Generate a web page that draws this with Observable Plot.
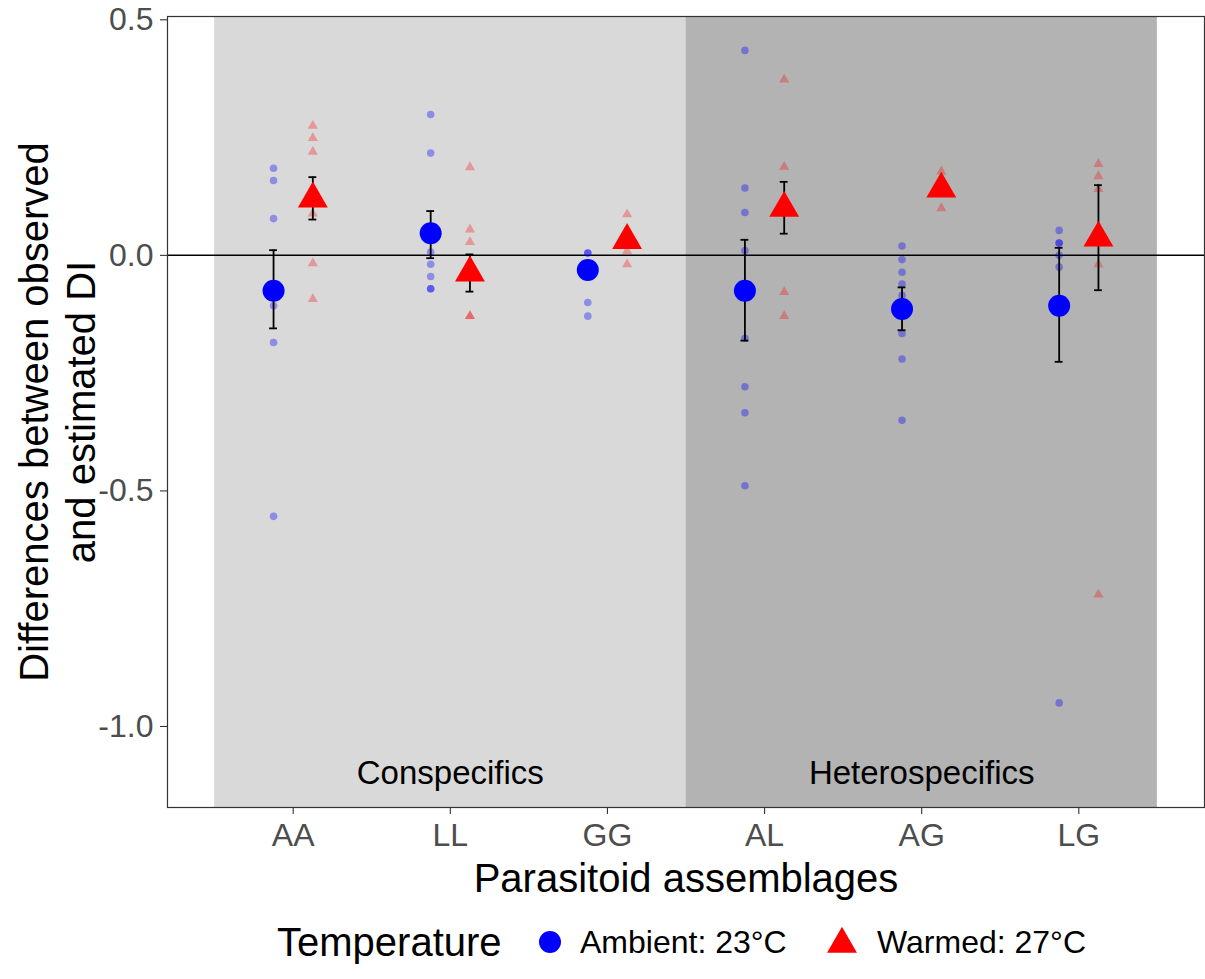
<!DOCTYPE html>
<html>
<head>
<meta charset="utf-8">
<script src="https://cdn.jsdelivr.net/npm/d3@7"></script>
<script src="https://cdn.jsdelivr.net/npm/@observablehq/plot@0.6"></script>
<style>
  html, body { margin: 0; padding: 0; background: #fff; }
  body { font-family: "Liberation Sans", Arial, "DejaVu Sans", sans-serif; }
  #wrap { position: relative; width: 1205px; }
  #legend { position: relative; width: 1205px; height: 74px; }
  #legend .item { position: absolute; top: 0; height: 74px; display: flex; align-items: center; white-space: nowrap; }
</style>
</head>
<body>
<div id="wrap"></div>
<script>
// ---------------- data ----------------
const categories = ["AA", "LL", "GG", "AL", "AG", "LG"];
const treatments = ["Ambient: 23°C", "Warmed: 27°C"];
const legendTitle = "Temperature";

// individual replicate values (one list per assemblage, same order as categories)
const ambientRaw = [
  [0.185, 0.159, 0.078, -0.107, -0.185, -0.554],
  [0.299, 0.217, 0.007, -0.019, -0.045, -0.071, -0.071],
  [0.005, 0.005, -0.100, -0.129],
  [0.435, 0.143, 0.091, 0.010, -0.176, -0.279, -0.334, -0.489],
  [0.020, -0.009, -0.036, -0.061, -0.085, -0.166, -0.220, -0.350],
  [0.053, 0.026, 0.026, 0.000, -0.025, -0.950]
];
const warmedRaw = [
  [0.275, 0.249, 0.220, 0.089, -0.017, -0.093],
  [0.187, 0.055, 0.028, -0.129, -0.129],
  [0.087, 0.009, -0.019],
  [0.373, 0.188, -0.078, -0.129],
  [0.178, 0.100],
  [0.194, 0.168, 0.141, -0.019, -0.720]
];

// means and error bar limits
const ambientMean = [-0.075, 0.047, -0.031, -0.075, -0.114, -0.107];
const ambientLow  = [-0.155, -0.006, null, -0.181, -0.159, -0.226];
const ambientHigh = [0.011, 0.094, null, 0.033, -0.068, 0.016];
const warmedMean  = [0.120, -0.037, 0.032, 0.100, 0.141, 0.037];
const warmedLow   = [0.076, -0.077, null, 0.046, null, -0.074];
const warmedHigh  = [0.166, 0.002, null, 0.156, null, 0.149];

const yTicks = [-1.0, -0.5, 0.0, 0.5];

const groupLabels = ["Conspecifics", "Heterospecifics"];
const groupFirst = [1, 4];   // first category index (1-based)
const groupLast = [3, 6];    // last category index (1-based)
const groupLabelAt = [2, 5]; // category under which the label is centred
const groupLabelY = -1.1;

const xTitle = "Parasitoid assemblages";
const yTitle = "Differences between observed\nand estimated DI";

// ---------------- tables ----------------
const dodge = 0.125;
const capHalf = 0.025;
const yDomain = [-1.172, 0.507];

const rawPts = [];
categories.forEach((c, i) => {
  ambientRaw[i].forEach(v => rawPts.push({x: i + 1 - dodge, y: v, t: 0}));
  warmedRaw[i].forEach(v => rawPts.push({x: i + 1 + dodge, y: v, t: 1}));
});
const means = [];
const bars = [];
categories.forEach((c, i) => {
  means.push({x: i + 1 - dodge, y: ambientMean[i], t: 0});
  means.push({x: i + 1 + dodge, y: warmedMean[i], t: 1});
  if (ambientLow[i] != null) bars.push({x: i + 1 - dodge, lo: ambientLow[i], hi: ambientHigh[i]});
  if (warmedLow[i] != null) bars.push({x: i + 1 + dodge, lo: warmedLow[i], hi: warmedHigh[i]});
});
const groupsTbl = groupLabels.map((g, i) => ({
  label: g, x1: groupFirst[i] - 0.5, x2: groupLast[i] + 0.5, xl: groupLabelAt[i], y: groupLabelY,
  fill: i === 0 ? "#D9D9D9" : "#B3B3B3"
}));

const font = '"Liberation Sans", Arial, sans-serif';

const plot = Plot.plot({
  width: 1205,
  height: 905,
  marginLeft: 167,
  marginRight: 1,
  marginTop: 16,
  marginBottom: 98,
  style: {fontFamily: font, background: "#fff", overflow: "visible"},
  x: {domain: [0.2, 6.8]},
  y: {domain: yDomain},
  marks: [
    Plot.rect(groupsTbl, {x1: "x1", x2: "x2", y1: () => yDomain[0], y2: () => yDomain[1], fill: "fill"}),
    Plot.ruleY([0], {stroke: "#000", strokeWidth: 1.5}),
    Plot.text(groupsTbl, {x: "xl", y: "y", text: "label", fontSize: 33, fill: "#000", fontFamily: font}),
    Plot.dot(rawPts.filter(d => d.t === 0), {x: "x", y: "y", r: 3.8, fill: "#0000FF", fillOpacity: 0.35, stroke: "none", symbol: "circle"}),
    Plot.dot(rawPts.filter(d => d.t === 1), {x: "x", y: "y", r: 3.8, fill: "#FF0000", fillOpacity: 0.3, stroke: "none", symbol: "triangle"}),
    Plot.ruleX(bars, {x: "x", y1: "lo", y2: "hi", stroke: "#000", strokeWidth: 1.8}),
    Plot.ruleY(bars, {y: "lo", x1: d => d.x - capHalf, x2: d => d.x + capHalf, stroke: "#000", strokeWidth: 1.8}),
    Plot.ruleY(bars, {y: "hi", x1: d => d.x - capHalf, x2: d => d.x + capHalf, stroke: "#000", strokeWidth: 1.8}),
    Plot.dot(means.filter(d => d.t === 0), {x: "x", y: "y", r: 11, fill: "#0000FF", stroke: "none", symbol: "circle"}),
    Plot.dot(means.filter(d => d.t === 1), {x: "x", y: "y", r: 11.1, fill: "#FF0000", stroke: "none", symbol: "triangle"}),
    Plot.frame({stroke: "#333", strokeWidth: 1.2}),
    Plot.axisX({ticks: categories.map((c, i) => i + 1), tickFormat: d => categories[d - 1], fontSize: 32, tickSize: 7, tickPadding: 9, fill: "#4D4D4D", stroke: "#333", strokeWidth: 1.1, label: null}),
    Plot.axisY({ticks: yTicks, tickFormat: d => d.toFixed(1), fontSize: 32, tickSize: 7, tickPadding: 7, fill: "#4D4D4D", stroke: "#333", strokeWidth: 1.1, label: null}),
    Plot.text([xTitle], {frameAnchor: "bottom", dy: 72, lineAnchor: "middle", fontSize: 40, fill: "#000", fontFamily: font}),
    Plot.text([yTitle], {frameAnchor: "left", dx: -111, rotate: -90, textAnchor: "middle", lineAnchor: "middle", lineHeight: 1.18, fontSize: 40, fill: "#000", fontFamily: font})
  ]
});
document.getElementById("wrap").appendChild(plot);

// ---------------- legend ----------------
const legend = document.createElement("div");
legend.id = "legend";
function addItem(left, html) {
  const d = document.createElement("div");
  d.className = "item";
  d.style.left = left + "px";
  d.innerHTML = html;
  legend.appendChild(d);
}
addItem(277, `<span style="font-size:40px;color:#000">${legendTitle}</span>`);
addItem(538, `<svg width="24" height="24"><circle cx="12" cy="12" r="11" fill="#0000FF"/></svg>`);
addItem(580, `<span style="font-size:32px;color:#000">${treatments[0]}</span>`);
const triPath = d3.symbol(d3.symbolTriangle, Math.PI * 11.1 * 11.1)();
addItem(826, `<svg width="32" height="32"><path transform="translate(16,18)" d="${triPath}" fill="#FF0000"/></svg>`);
addItem(877, `<span style="font-size:32px;color:#000">${treatments[1]}</span>`);
document.getElementById("wrap").appendChild(legend);
</script>
</body>
</html>
